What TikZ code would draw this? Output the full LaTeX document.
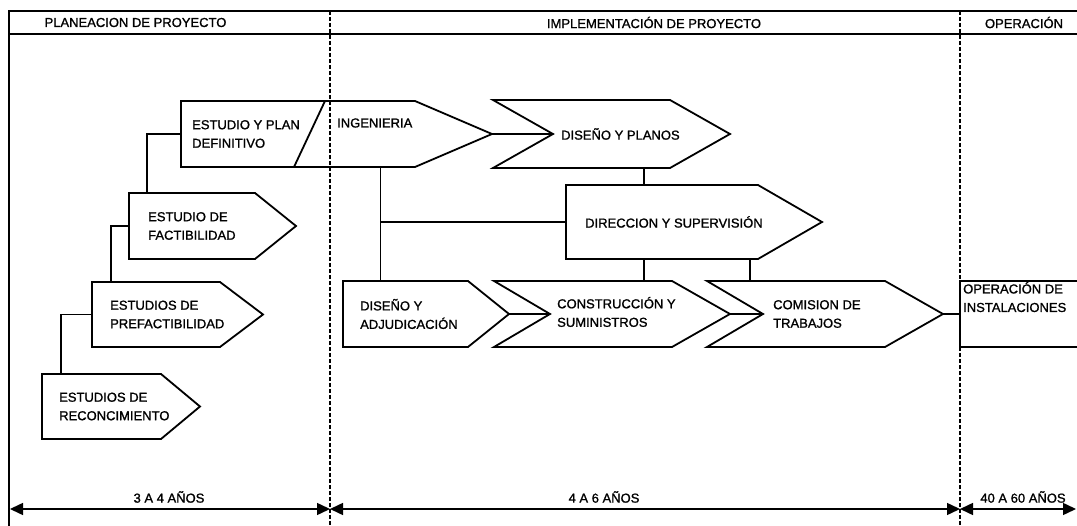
\documentclass[tikz,border=0pt]{standalone}
\usepackage{fontspec}
\setmainfont{Liberation Sans}[FakeBold=1.2]
\usetikzlibrary{arrows.meta,calc}
\begin{document}
\begin{tikzpicture}[x=1pt,y=-1pt,
  font=\fontsize{13}{18.5}\selectfont,
  boxbody/.style={draw=none,inner sep=0pt,outer sep=0pt,rectangle},
  shapeline/.style={line width=1.8pt,line join=miter},
  conn/.style={line width=1.8pt},
  framerule/.style={line width=1.9pt},
  phase/.style={line width=1.3pt,dash pattern=on 4pt off 2pt},
  boxtext/.style={inner sep=0pt,align=left,anchor=west},
  spanarrow/.style={line width=1.5pt,{Triangle[length=13pt,width=12pt]}-{Triangle[length=13pt,width=12pt]}},
]
\useasboundingbox (0,0) rectangle (1077,526);

% frame, header row and phase boundaries
\draw[framerule] (1077,11) -- (9,11) -- (9,526);
\draw[framerule] (9,34) -- (1077,34);
\draw[phase] (330,11) -- (330,526);
\draw[phase] (960,11) -- (960,526);

\node (h1) at (135.5,22.5) {PLANEACION DE PROYECTO};
\node (h2) at (654,22.5) {IMPLEMENTACIÓN DE PROYECTO};
\node (h3) at (1024,22.5) {OPERACIÓN};

% box bodies (rectangular part of every arrow shape)
\node[boxbody,minimum width=119pt,minimum height=65pt] (recon)   at (101.5,406.5) {};
\node[boxbody,minimum width=128pt,minimum height=65pt] (prefact) at (156,314.5) {};
\node[boxbody,minimum width=126pt,minimum height=66pt] (fact)    at (192,226) {};
\node[boxbody,minimum width=234pt,minimum height=66pt] (plan)    at (298,134) {};
\node[boxbody,minimum width=177pt,minimum height=68pt] (planos)  at (581.5,134) {};
\node[boxbody,minimum width=192pt,minimum height=74pt] (direc)   at (662,222) {};
\node[boxbody,minimum width=125pt,minimum height=66pt] (adj)     at (405.5,314) {};
\node[boxbody,minimum width=178pt,minimum height=66pt] (constr)  at (583,314) {};
\node[boxbody,minimum width=178pt,minimum height=66pt] (comis)   at (796,314) {};
\node[boxbody,minimum width=117pt,minimum height=66pt] (oper)    at (1018.5,314) {};

% tips and notches
\coordinate (recon-tip)    at (200,406.5);
\coordinate (prefact-tip)  at (263,314.5);
\coordinate (fact-tip)     at (296,226);
\coordinate (plan-tip)     at (492,134);
\coordinate (planos-notch) at (553,134);
\coordinate (planos-tip)   at (730,134);
\coordinate (direc-tip)    at (822,222);
\coordinate (adj-tip)      at (509,314);
\coordinate (constr-notch) at (550,314);
\coordinate (constr-tip)   at (730,314);
\coordinate (comis-notch)  at (763,314);
\coordinate (comis-tip)    at (943,314);

% pentagon arrows
\foreach \b in {recon,prefact,fact,plan,direc,adj}{
  \draw[shapeline] (\b.north west) -- (\b.north east) -- (\b-tip)
    -- (\b.south east) -- (\b.south west) -- cycle;
}
% chevrons
\foreach \b in {planos,constr,comis}{
  \draw[shapeline] (\b.north west) -- (\b.north east) -- (\b-tip)
    -- (\b.south east) -- (\b.south west) -- (\b-notch) -- cycle;
}
% divider between study and engineering
\draw[shapeline] ([xshift=144pt]plan.north west) -- ([xshift=113pt]plan.south west);
% operation box, open to the right
\draw[shapeline] (oper.north east) -- (oper.north west) -- (oper.south west) -- (oper.south east);

% texts
\node[boxtext] (recon-t)   at ([xshift=17pt]recon.west)   {ESTUDIOS DE\\RECONCIMIENTO};
\node[boxtext] (prefact-t) at ([xshift=18pt]prefact.west) {ESTUDIOS DE\\PREFACTIBILIDAD};
\node[boxtext] (fact-t)    at ([xshift=19pt]fact.west)    {ESTUDIO DE\\FACTIBILIDAD};
\node[boxtext] (plan-t)    at ([xshift=11pt]plan.west)    {ESTUDIO Y PLAN\\DEFINITIVO};
\node[boxtext] (ing-t)     at (337,123)                   {INGENIERIA};
\node[boxtext] (planos-t)  at ([xshift=8pt]planos-notch)  {DISEÑO Y PLANOS};
\node[boxtext] (direc-t)   at ([xshift=19pt]direc.west)   {DIRECCION Y SUPERVISIÓN};
\node[boxtext] (adj-t)     at ([xshift=17pt]adj.west)     {DISEÑO Y\\ADJUDICACIÓN};
\node[boxtext] (constr-t)  at ([xshift=7pt,yshift=2pt]constr-notch) {CONSTRUCCIÓN Y\\SUMINISTROS};
\node[boxtext] (comis-t)   at ([xshift=10pt]comis-notch)  {COMISION DE\\TRABAJOS};
\node[boxtext,anchor=north west] (oper-t) at ([xshift=3pt,yshift=-1pt]oper.north west) {OPERACIÓN DE\\INSTALACIONES};

% connectors
\draw[conn] (plan.west) -| ([xshift=18pt]fact.north west);
\draw[conn] (fact.west) -| ([xshift=19pt]prefact.north west);
\draw[conn] (prefact.west) -| ([xshift=19pt]recon.north west);
\coordinate (ingdown) at ([xshift=37.5pt]adj.north west);
\draw[conn] (ingdown) -- (ingdown |- plan.south);
\draw[conn] (direc.west) -- (direc.west -| ingdown);
\draw[conn] (plan-tip) -- (planos-notch);
\coordinate (dtop) at ([xshift=78pt]direc.north west);
\draw[conn] (dtop) -- (dtop |- planos.south);
\coordinate (dbot1) at ([xshift=78pt]direc.south west);
\draw[conn] (dbot1) -- (dbot1 |- constr.north);
\coordinate (dbot2) at ([xshift=184pt]direc.south west);
\draw[conn] (dbot2) -- (dbot2 |- comis.north);
\draw[conn] (adj-tip) -- (constr-notch);
\draw[conn] (constr-tip) -- (comis-notch);
\draw[conn] (comis-tip) -- (oper.west);

% durations
\coordinate (p0) at (10,509);
\coordinate (p1) at (330,509);
\coordinate (p2) at (960,509);
\coordinate (p3) at (1076,509);
\draw[spanarrow] (p0) -- (p1);
\draw[spanarrow] (p1) -- (p2);
\draw[spanarrow] (p2) -- (p3);
\node (d1) at (169,497) {3 A 4 AÑOS};
\node (d2) at (604,497) {4 A 6 AÑOS};
\node (d3) at (1023,497) {40 A 60 AÑOS};
\end{tikzpicture}
\end{document}
